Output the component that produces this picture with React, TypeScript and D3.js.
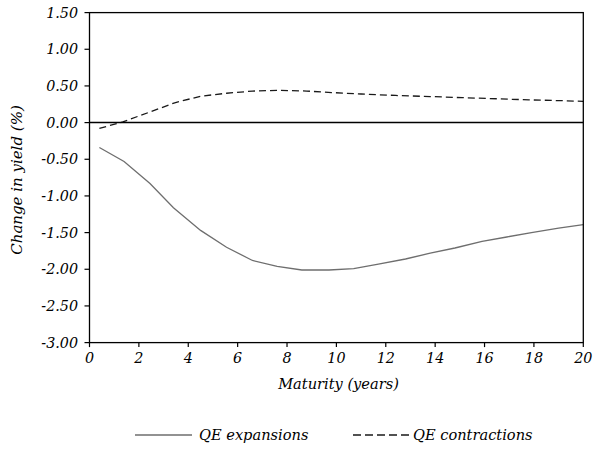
import React from "react";
import * as d3 from "d3";

// Yield response by maturity (years)
const expansionMaturity = [0.4, 1.4, 2.45, 3.4, 4.5, 5.55, 6.6, 7.6, 8.6, 9.7, 10.7, 11.7, 12.8, 13.8, 14.8, 15.9, 16.9, 17.9, 19.0, 20.0];
const expansionChange = [-0.34, -0.53, -0.83, -1.16, -1.47, -1.70, -1.88, -1.96, -2.01, -2.01, -1.99, -1.93, -1.86, -1.78, -1.71, -1.62, -1.56, -1.50, -1.44, -1.39];

const contractionMaturity = [0.4, 1.35, 2.45, 3.45, 4.5, 5.55, 6.6, 7.7, 8.8, 9.8, 11.0, 12.4, 13.8, 15.1, 16.5, 17.8, 19.0, 20.0];
const contractionChange = [-0.08, 0.01, 0.145, 0.27, 0.36, 0.40, 0.43, 0.44, 0.43, 0.41, 0.39, 0.37, 0.355, 0.34, 0.325, 0.31, 0.30, 0.29];

const yTicks = [1.5, 1.0, 0.5, 0.0, -0.5, -1.0, -1.5, -2.0, -2.5, -3.0];
const xTicks = [0, 2, 4, 6, 8, 10, 12, 14, 16, 18, 20];

const W = 593;
const H = 449;
const left = 89.5;
const right = 583.3;
const top = 12.6;
const bottom = 342.6;

const FONT = "'DejaVu Serif', serif";

export default function App() {
  const x = d3.scaleLinear().domain([0, 20]).range([left, right]);
  const y = d3.scaleLinear().domain([-3, 1.5]).range([bottom, top]);

  const line = d3
    .line<[number, number]>()
    .x((d) => x(d[0]))
    .y((d) => y(d[1]));

  const expPts = expansionMaturity.map((m, i) => [m, expansionChange[i]] as [number, number]);
  const conPts = contractionMaturity.map((m, i) => [m, contractionChange[i]] as [number, number]);

  return (
    <svg
      width={W}
      height={H}
      style={{ position: "absolute", left: 0, top: 0, background: "#fff" }}
      fontFamily={FONT}
      fontStyle="italic"
    >
      <rect x={0} y={0} width={W} height={H} fill="#fff" />

      {/* series */}
      <path d={line(expPts) || ""} fill="none" stroke="#6e6e6e" strokeWidth={1.3} />
      <path d={line(conPts) || ""} fill="none" stroke="#1a1a1a" strokeWidth={1.3} strokeDasharray="7,4" />

      {/* zero line */}
      <line x1={left} x2={right} y1={y(0)} y2={y(0)} stroke="#000" strokeWidth={1.5} />

      {/* frame */}
      <rect x={left} y={top} width={right - left} height={bottom - top} fill="none" stroke="#000" strokeWidth={1.3} />

      {/* y axis */}
      {yTicks.map((t) => (
        <g key={"y" + t}>
          <line x1={left - 5} x2={left} y1={y(t)} y2={y(t)} stroke="#000" strokeWidth={1.2} />
          <text x={78} y={y(t)} dy="0.36em" textAnchor="end" fontSize={14.3} fill="#000">
            {t.toFixed(2)}
          </text>
        </g>
      ))}

      {/* x axis */}
      {xTicks.map((t) => (
        <g key={"x" + t}>
          <line x1={x(t)} x2={x(t)} y1={bottom} y2={bottom + 4.5} stroke="#000" strokeWidth={1.2} />
          <text x={x(t)} y={363} textAnchor="middle" fontSize={14.3} fill="#000">
            {t}
          </text>
        </g>
      ))}

      <text x={338.5} y={388.5} textAnchor="middle" fontSize={14.6} fill="#000">
        Maturity (years)
      </text>
      <text
        transform={`translate(21.5,180) rotate(-90)`}
        textAnchor="middle"
        fontSize={15}
        fill="#000"
      >
        Change in yield (%)
      </text>

      {/* legend */}
      <line x1={135} x2={192} y1={435} y2={435} stroke="#6e6e6e" strokeWidth={1.3} />
      <text x={199} y={440} fontSize={14.6} fill="#000">QE expansions</text>
      <line x1={353} x2={411} y1={435} y2={435} stroke="#1a1a1a" strokeWidth={1.3} strokeDasharray="8,4" />
      <text x={413} y={440} fontSize={14.6} fill="#000">QE contractions</text>
    </svg>
  );
}
